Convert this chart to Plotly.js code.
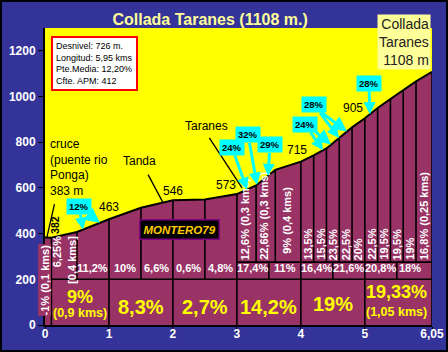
<!DOCTYPE html>
<html><head><meta charset="utf-8">
<script src="https://cdn.plot.ly/plotly-3.0.1.min.js"></script>
<style>
body{margin:0;background:#333399}
#wrap{position:relative;width:448px;height:352px}
#plot{width:448px;height:352px}
#frame{position:absolute;left:0;top:0;width:448px;height:352px;box-sizing:border-box;border:2px solid #000;pointer-events:none}
</style>
</head><body><div id="wrap"><div id="plot"></div><div id="frame"></div></div>
<script>
// profile
const km   = [0, 0.1, 0.5, 1.0, 1.5, 2.0, 2.5, 3.0, 3.3, 3.6, 4.0, 4.2, 4.4, 4.6, 4.8, 5.0, 5.2, 5.4, 5.6, 5.8, 6.05];
const elev = [383, 382, 407, 463, 513, 546, 549, 573, 611, 679, 715, 742, 773, 820, 865, 905, 950, 989, 1028, 1066, 1108];
// x tick labels
const xTickVals = [0, 1, 2, 3, 4, 5, 6.05];
const xTickText = ['0', '1', '2', '3', '4', '5', '6,05'];
// altitude labels at km marks
const markKm = [1, 2, 3, 4, 5];
const markLabels = ['463', '546', '573', '715', '905'];
// half-km grades
const halfKm = [0.75, 1.25, 1.75, 2.25, 2.75, 3.25, 3.75, 4.25, 4.75, 5.25, 5.7];
const halfGrades = ['11,2%', '10%', '6,6%', '0,6%', '4,8%', '17,4%', '11%', '16,4%', '21,6%', '20,8%', '18%'];
// per-km grades
const kmCenters = [1.5, 2.5, 3.5, 4.5];
const kmGrades = ['8,3%', '2,7%', '14,2%', '19%'];
// short segment grades (vertical)
const segKm = [3.13, 3.42, 3.77, 4.1, 4.3, 4.5, 4.7, 4.9, 5.1, 5.3, 5.5, 5.7, 5.925];
const segLabels = ['12,6% (0,3 kms)', '22,66% (0,3 kms)', '9% (0,4 kms)', '13,5%', '15,5%', '23,5%', '22,5%', '20%', '22,5%', '19,5%', '19,5%', '19%', '16,8% (0,25 kms)'];
// ramps
const rampKm = [0.594, 3.158, 3.314, 3.486, 4.346, 4.596, 5.08];
const rampLabels = ['12%', '24%', '32%', '29%', '24%', '28%', '28%'];
// dividers
const fullDiv = [0.1, 1, 2, 3, 4, 5, 6.05];
const midDiv = [0.5, 1.5, 2.5];
const topDiv = [3.3, 3.6, 4.2, 4.4, 4.6, 4.8, 5.2, 5.4, 5.6, 5.8];
const rowDiv = [3.5, 4.5, 5.5];

function alt(k) {
  for (let i = 0; i < km.length - 1; i++) {
    if (k >= km[i] && k <= km[i + 1]) return elev[i] + (elev[i + 1] - elev[i]) * (k - km[i]) / (km[i + 1] - km[i]);
  }
  return elev[elev.length - 1];
}

const FF = 'Liberation Sans, Arial, sans-serif';
const shapes = [];
const ln = {color: '#000', width: 1.6};
fullDiv.forEach(k => shapes.push({type: 'line', xref: 'x', yref: 'y', x0: k, x1: k, y0: 0, y1: alt(k), line: ln}));
midDiv.forEach(k => shapes.push({type: 'line', xref: 'x', yref: 'y', x0: k, x1: k, y0: 200, y1: alt(k), line: ln}));
topDiv.forEach(k => shapes.push({type: 'line', xref: 'x', yref: 'y', x0: k, x1: k, y0: 275, y1: alt(k), line: ln}));
rowDiv.forEach(k => shapes.push({type: 'line', xref: 'x', yref: 'y', x0: k, x1: k, y0: 200, y1: 275, line: ln}));
shapes.push({type: 'line', xref: 'x', yref: 'y', x0: 0.1, x1: 6.05, y0: 200, y1: 200, line: ln});
shapes.push({type: 'line', xref: 'x', yref: 'y', x0: 3.0, x1: 6.05, y0: 275, y1: 275, line: ln});

const ann = [];
const W = {color: '#fff', size: 11, family: FF, weight: 'bold'};
// rotated small labels
segLabels.forEach((t, i) => ann.push({x: segKm[i], y: (i === 2 ? 306 : 280), text: t, showarrow: false, textangle: -90,
  yanchor: 'bottom', xanchor: 'center', font: W, borderpad: 0}));
ann.push({x: 0, y: 195, text: '-1% (0,1 kms)', showarrow: false, textangle: -90, font: W, bgcolor: '#993366', borderpad: 0});
ann.push({x: 0.2, y: 394, text: '6,25%', showarrow: false, textangle: -90, yanchor: 'top', font: W, borderpad: 0});
ann.push({x: 0.42, y: 394, text: '[0,4 kms]', showarrow: false, textangle: -90, yanchor: 'top', font: W, borderpad: 0});
// half-km labels
halfGrades.forEach((t, i) => ann.push({x: halfKm[i], y: 249, text: t, showarrow: false, font: W}));
// km labels
const Y = {color: '#FFFF00', size: 20, family: FF, weight: 'bold'};
kmGrades.forEach((t, i) => ann.push({x: kmCenters[i], y: (t === '19%' ? 92 : 79), text: t, showarrow: false, font: Y}));
ann.push({x: 0.55, y: 122, text: '9%', showarrow: false, font: {color: '#FFFF00', size: 18, family: FF, weight: 'bold'}});
ann.push({x: 0.55, y: 52, text: '(0,9 kms)', showarrow: false, font: {color: '#FFFF00', size: 12.5, family: FF, weight: 'bold'}});
ann.push({x: 5.5, y: 144, text: '19,33%', showarrow: false, font: {color: '#FFFF00', size: 18, family: FF, weight: 'bold'}});
ann.push({x: 5.5, y: 57, text: '(1,05 kms)', showarrow: false, font: {color: '#FFFF00', size: 12.5, family: FF, weight: 'bold'}});
// altitude labels
const B = {color: '#000', size: 12, family: FF};
const markPos = [[1.0, 516], [2.0, 587], [2.83, 613], [3.94, 766], [4.815, 950]];
markLabels.forEach((t, i) => ann.push({x: markPos[i][0], y: markPos[i][1], text: t, showarrow: false, font: B}));
ann.push({x: 0.156, y: 438, text: '382', showarrow: false, textangle: -90, font: {color: '#000', size: 10.5, family: FF, weight: 'bold'}});
ann.push({x: 0.047, y: 832, text: 'cruce<br>(puente rio<br>Ponga)<br>383 m', showarrow: false, xanchor: 'left', yanchor: 'top', align: 'left', font: B});
ann.push({x: 1.47, y: 718, text: 'Tanda', showarrow: false, font: B});
ann.push({x: 2.53, y: 871, text: 'Taranes', showarrow: false, font: B});
// leader lines
function leader(k, y, ax, ay, color, w, head) {
  ann.push({x: k, y: y, text: ' ', showarrow: true, ax: ax, ay: ay, arrowcolor: color, arrowwidth: w, arrowhead: head, standoff: 0, startstandoff: 0, font: {size: 1}});
}
leader(0.03, 385, 8, -35, '#000', 1.3, 0);
leader(1.845, alt(1.845), -16, -30, '#000', 1.3, 0);
leader(3.08, 600, -34, -52, '#000', 1.3, 0);
// ramps
const rampOff = [[-4, -23], [-15, -42], [-9, -50], [2, -31], [-18, -26], [-25, -33], [-1, -31]];
rampLabels.forEach((t, i) => ann.push({x: rampKm[i], y: alt(rampKm[i]), text: t, showarrow: true, ax: rampOff[i][0], ay: rampOff[i][1],
  arrowcolor: '#00FFFF', arrowwidth: 3, arrowhead: 2, arrowsize: 0.8, standoff: 0, bgcolor: '#00FFFF', borderpad: 2,
  font: {color: '#000', size: 9.5, family: FF, weight: 'bold'}}));
leader(0.86, alt(0.86), -12, -9, '#00FFFF', 3, 2);
leader(4.471, alt(4.471), -18, -15, '#00FFFF', 3, 2);
leader(4.721, alt(4.721), -27, -20, '#00FFFF', 3, 2);
// info box
ann.push({xref: 'paper', yref: 'paper', x: 0.016, y: 0.973, xanchor: 'left', yanchor: 'top', showarrow: false, align: 'left',
  text: 'Desnivel: 726 m.<br>Longitud: 5,95 kms<br>Pte.Media: 12,20%<br>Cfte. APM: 412',
  bgcolor: '#fff', bordercolor: '#FF0000', borderwidth: 2, borderpad: 3, font: {color: '#000', size: 9, family: FF}});
// top right label
ann.push({xref: 'paper', yref: 'paper', x: 0.9974, y: 1.047, xanchor: 'right', yanchor: 'top', showarrow: false, align: 'right',
  text: 'Collada<br>Taranes<br>1108 m', bgcolor: '#FFFF99', borderpad: 1, font: {color: '#222', size: 14, family: FF}});
// signature
ann.push({x: 2.095, y: 416, text: '<i>MONTERO79</i>', showarrow: false, bgcolor: '#000', bordercolor: '#800080', borderwidth: 1.5, borderpad: 3,
  font: {color: '#FFCC00', size: 11.5, family: FF, weight: 'bold'}});

const trace = {x: km, y: elev, type: 'scatter', mode: 'lines', fill: 'tozeroy', fillcolor: '#993366',
  line: {color: '#000', width: 2}, hoverinfo: 'skip'};

const layout = {
  width: 448, height: 352,
  margin: {l: 45, r: 16, t: 28, b: 27},
  paper_bgcolor: '#333399', plot_bgcolor: '#FFFF00',
  showlegend: false,
  title: {text: 'Collada Taranes (1108 m.)', x: 0.469, xanchor: 'center', y: 0.946, yanchor: 'middle',
    font: {color: '#FFFF99', size: 16, family: FF, weight: 'bold'}},
  xaxis: {range: [0, 6.05], tickvals: xTickVals, ticktext: xTickText, showgrid: false, zeroline: false,
    showline: true, linecolor: '#000', linewidth: 2, ticks: 'outside', ticklen: 5, tickcolor: '#000',
    ticklabelstandoff: -8, tickfont: {color: '#fff', size: 12, family: FF, weight: 'bold'}},
  yaxis: {range: [0, 1300], tickvals: [0, 200, 400, 600, 800, 1000, 1200], showgrid: false, zeroline: false,
    showline: true, linecolor: '#000', linewidth: 2, ticks: 'outside', ticklen: 5, tickcolor: '#000',
    tickfont: {color: '#fff', size: 12, family: FF, weight: 'bold'}},
  shapes: shapes,
  annotations: ann
};
Plotly.newPlot('plot', [trace], layout, {staticPlot: true});
</script>
</body></html>
